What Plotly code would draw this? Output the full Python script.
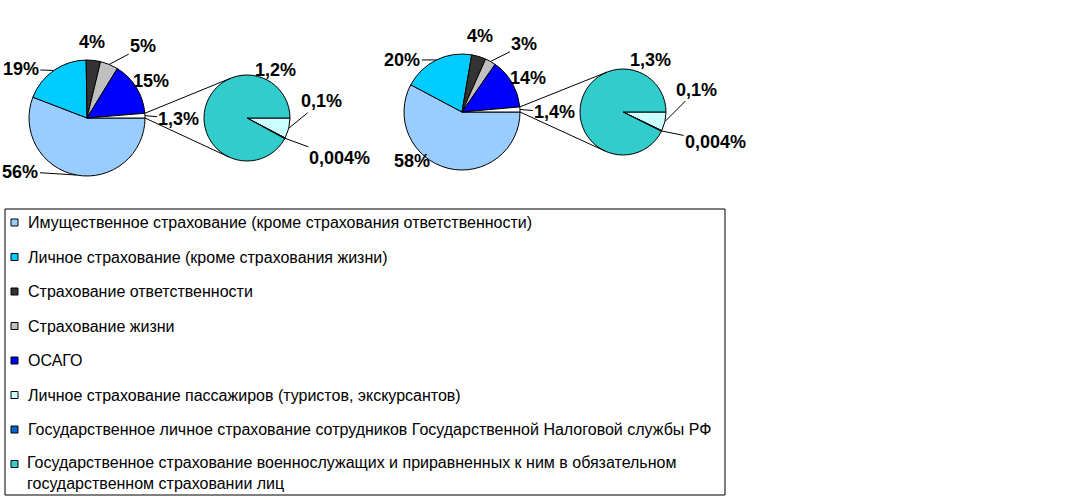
import math
import plotly.graph_objects as go

W, H = 1080, 502

# ---------------- data ----------------
categories = [
    "Имущественное страхование (кроме страхования ответственности)",
    "Личное страхование (кроме страхования жизни)",
    "Страхование ответственности",
    "Страхование жизни",
    "ОСАГО",
    "Личное страхование пассажиров (туристов, экскурсантов)",
    "Государственное личное страхование сотрудников Государственной Налоговой службы РФ",
    "Государственное страхование военнослужащих и приравненных к ним в обязательном<br>государственном страховании лиц",
]
other_name = "Прочие виды"
main_labels = [c.replace("<br>", " ") for c in categories[:5]] + [other_name]
sub_labels = [categories[5], categories[6], categories[7].replace("<br>", " ")]

left_main_values = [56, 19, 4, 5, 15, 1.3]
left_sub_values = [0.1, 0.004, 1.2]
right_main_values = [58, 20, 4, 3, 14, 1.4]
right_sub_values = [0.1, 0.004, 1.3]

left_main_text = ["56%", "19%", "4%", "5%", "15%", "1,3%"]
left_sub_text = ["0,1%", "0,004%", "1,2%"]
right_main_text = ["58%", "20%", "4%", "3%", "14%", "1,4%"]
right_sub_text = ["0,1%", "0,004%", "1,3%"]

# ---------------- styles / layout ----------------
colors = ["#99CCFF", "#00CCFF", "#333333", "#C0C0C0", "#0000FF",
          "#CCFFFF", "#0066CC", "#33CCCC"]
other_color = "#FFFFFF"
main_colors = colors[:5] + [other_color]
sub_colors = colors[5:8]

# pie geometry in pixels: (cx, cy, r)
geo = {
    "lm": (87, 118, 58),
    "ls": (247, 118, 43),
    "rm": (462, 112, 58),
    "rs": (623, 112, 43),
}
# label offsets from slice-edge midpoint (dx, dy, leader line)
off = {
    "lm": [(-56, -3.5, True), (-33, -1, True), (-1, -18, False), (34, -18, True), (15, -7, False), (34, 3, True)],
    "ls": [(33, -27, True), (55, 20, True), (70, -37.5, False)],
    "rm": [(-36, -7, False), (-34, 0, True), (1, -20, False), (34, -17, True), (16, -5, False), (35, 3, True)],
    "rs": [(32, -32, True), (54, 11, True), (69, -42, False)],
}
label_font = dict(family="Liberation Sans, Arial, sans-serif", size=18, color="#000000")
legend_font = dict(family="Liberation Sans, Arial, sans-serif", size=16, color="#000000")


def px_x(x):
    return x / W


def px_y(y):
    return 1 - y / H


def domain(key):
    cx, cy, r = geo[key]
    return dict(x=[px_x(cx - r), px_x(cx + r)], y=[px_y(cy + r), px_y(cy - r)])


fig = go.Figure()

specs = [
    ("lm", main_labels, left_main_values, main_colors, left_main_text),
    ("ls", sub_labels, left_sub_values, sub_colors, left_sub_text),
    ("rm", main_labels, right_main_values, main_colors, right_main_text),
    ("rs", sub_labels, right_sub_values, sub_colors, right_sub_text),
]

annotations = []
shapes = []

for key, labels, vals, cols, texts in specs:
    fig.add_trace(go.Pie(
        labels=labels, values=vals, sort=False, direction="clockwise", rotation=90,
        marker=dict(colors=cols, line=dict(color="#000000", width=1)),
        textinfo="none", hoverinfo="skip", showlegend=False,
        domain=domain(key),
    ))
    cx, cy, r = geo[key]
    total = sum(vals)
    cum = 0.0
    for i, v in enumerate(vals):
        a = (cum + v / 2) / total * 2 * math.pi
        cum += v
        ex = cx + r * math.cos(a)
        ey = cy + r * math.sin(a)
        dx, dy, arrow = off[key][i]
        if arrow:
            annotations.append(dict(
                x=px_x(ex), y=px_y(ey), xref="paper", yref="paper",
                ax=dx, ay=dy, axref="pixel", ayref="pixel",
                text="<b>" + texts[i] + "</b>", font=label_font,
                showarrow=True, arrowhead=0, arrowwidth=1, arrowcolor="#000000",
                standoff=0, startstandoff=0,
            ))
        else:
            annotations.append(dict(
                x=px_x(ex + dx), y=px_y(ey + dy), xref="paper", yref="paper",
                text="<b>" + texts[i] + "</b>", font=label_font,
                showarrow=False, xanchor="center", yanchor="middle",
            ))

# connector lines (tangents from the "other" slice to the secondary pie)
for mkey, skey, mvals in [("lm", "ls", left_main_values), ("rm", "rs", right_main_values)]:
    cx, cy, r = geo[mkey]
    sx, sy, sr = geo[skey]
    total = sum(mvals)
    a0 = (total - mvals[-1]) / total * 2 * math.pi
    p_top = (cx + r * math.cos(a0), cy + r * math.sin(a0))
    p_bot = (cx + r, cy)
    for p, pick in [(p_top, min), (p_bot, max)]:
        d = math.hypot(p[0] - sx, p[1] - sy)
        base = math.atan2(p[1] - sy, p[0] - sx)
        da = math.acos(sr / d)
        cands = [(sx + sr * math.cos(base + s * da), sy + sr * math.sin(base + s * da)) for s in (1, -1)]
        t = pick(cands, key=lambda q: q[1])
        shapes.append(dict(type="line", xref="paper", yref="paper",
                           x0=px_x(p[0]), y0=px_y(p[1]), x1=px_x(t[0]), y1=px_y(t[1]),
                           line=dict(color="#000000", width=1)))

# manual legend
box = (5, 209, 725, 495)
shapes.append(dict(type="rect", xref="paper", yref="paper",
                   x0=px_x(box[0]), y0=px_y(box[3]), x1=px_x(box[2]), y1=px_y(box[1]),
                   line=dict(color="#000000", width=1), fillcolor="rgba(0,0,0,0)"))
row0, step = 222.5, 34.5
for i, (name, col) in enumerate(zip(categories, colors)):
    yc = row0 + i * step
    shapes.append(dict(type="rect", xref="paper", yref="paper",
                       x0=px_x(11), x1=px_x(18), y0=px_y(yc + 3.5), y1=px_y(yc - 3.5),
                       line=dict(color="#000000", width=1), fillcolor=col))
    if "<br>" in name:
        annotations.append(dict(x=px_x(26), y=px_y(yc - 11), xref="paper", yref="paper",
                                text=name, font=legend_font, showarrow=False,
                                xanchor="left", yanchor="top", align="left", borderpad=0))
    else:
        annotations.append(dict(x=px_x(26), y=px_y(yc), xref="paper", yref="paper",
                                text=name, font=legend_font, showarrow=False,
                                xanchor="left", yanchor="middle", align="left"))

fig.update_layout(
    width=W, height=H,
    margin=dict(l=0, r=0, t=0, b=0, pad=0),
    paper_bgcolor="#FFFFFF", plot_bgcolor="#FFFFFF",
    showlegend=False,
    annotations=annotations, shapes=shapes,
)

fig.write_html("out.html", config={"displayModeBar": False},
               post_script="document.body.style.margin='0px';document.body.style.overflow='hidden';")
